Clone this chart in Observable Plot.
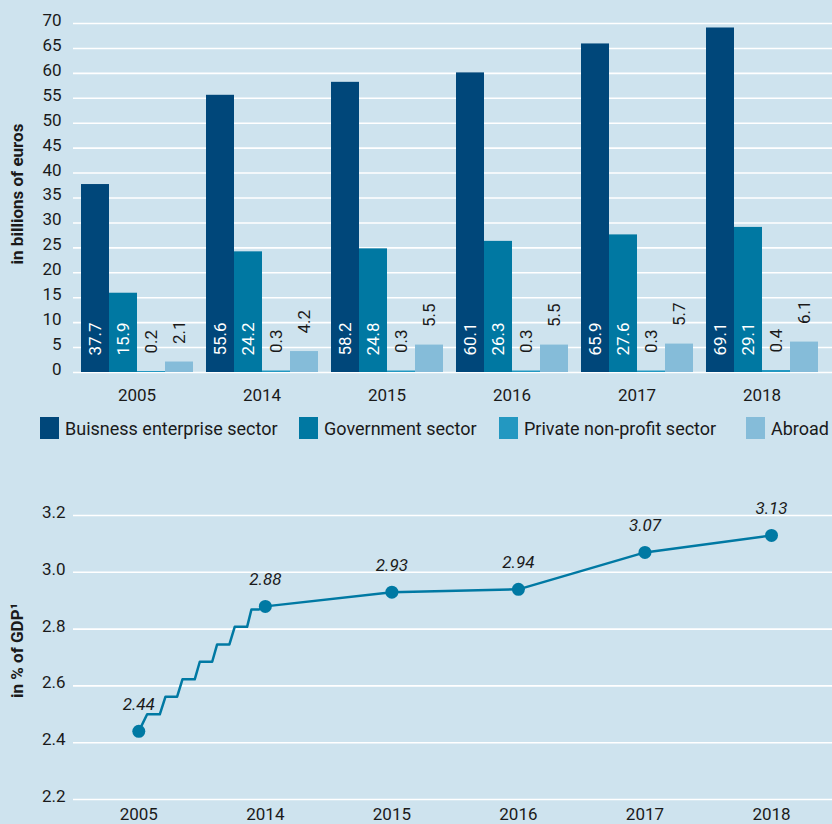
<!DOCTYPE html>
<html><head><meta charset="utf-8">
<script src="https://cdn.jsdelivr.net/npm/d3@7"></script>
<script src="https://cdn.jsdelivr.net/npm/@observablehq/plot@0.6"></script>
<style>
html,body{margin:0;padding:0;background:#cee3ee;}
#root{position:relative;width:832px;height:824px;overflow:hidden;font-family:Roboto,"Liberation Sans",sans-serif;}
.layer{position:absolute;left:0;}
#legend{position:absolute;left:0;top:417px;width:832px;height:22px;font-size:18px;color:#1a1a1a;white-space:nowrap;}
.item{position:absolute;top:0;height:22px;display:flex;align-items:center;}
.sw{width:19px;height:22px;margin-right:6px;}
</style></head><body><div id="root"></div>
<script>
// ---- data ----
const years = ["2005", "2014", "2015", "2016", "2017", "2018"];
const sectors = ["Buisness enterprise sector", "Government sector", "Private non-profit sector", "Abroad"];
const business = [37.7, 55.6, 58.2, 60.1, 65.9, 69.1];
const government = [15.9, 24.2, 24.8, 26.3, 27.6, 29.1];
const privateNonProfit = [0.2, 0.3, 0.3, 0.3, 0.3, 0.4];
const abroad = [2.1, 4.2, 5.5, 5.5, 5.7, 6.1];
const topTicks = [0, 5, 10, 15, 20, 25, 30, 35, 40, 45, 50, 55, 60, 65, 70];
const topTitle = "in billions of euros";

const gdpShare = [2.44, 2.88, 2.93, 2.94, 3.07, 3.13];
// axis-break staircase between 2005 and 2014 (x in year-slot units)
const breakX = [0.066, 0.166, 0.211, 0.303, 0.345, 0.442, 0.482, 0.580, 0.619, 0.716, 0.758, 0.856, 0.890, 0.95];
const breakY = [2.500, 2.500, 2.562, 2.562, 2.623, 2.623, 2.685, 2.685, 2.746, 2.746, 2.808, 2.808, 2.869, 2.869];
const gdpTicks = [2.2, 2.4, 2.6, 2.8, 3.0, 3.2];
const gdpTitle = "in % of GDP\u00B9";

// ---- styles ----
const sectorColors = ["#00477a", "#0078a2", "#2398c1", "#85bcd9"];
const lineColor = "#0079a3";
const legendLeft = [40, 299, 499, 746];
const FONT = 'Roboto, "Liberation Sans", sans-serif';
const baseStyle = {background: "transparent", fontFamily: FONT, fontSize: "17px", color: "#1a1a1a", overflow: "visible"};

const values = [business, government, privateNonProfit, abroad];
const rows = [];
years.forEach((y, i) => sectors.forEach((s, k) => rows.push({year: y, sector: s, value: values[k][i], inside: k < 2})));
const fmt1 = d3.format(".1f");
const fmt2 = d3.format(".2f");

const root = document.getElementById("root");
function place(el, top) { el.classList.add("layer"); el.style.top = top + "px"; root.appendChild(el); }

// top: background grid + y axis
const topBg = Plot.plot({
  width: 832, height: 410, marginLeft: 73, marginRight: 0, marginTop: 23, marginBottom: 38,
  style: baseStyle,
  y: {domain: [0, 70]},
  marks: [
    Plot.ruleY(topTicks, {stroke: "white", strokeWidth: 1.6}),
    Plot.axisY(topTicks, {tickSize: 0, tickPadding: 12, dy: -3, label: null}),
    Plot.text([topTitle], {frameAnchor: "left", textAnchor: "middle", rotate: -90, dx: -56, dy: -4, fontWeight: "bold", fontSize: 17, fill: "#1a1a1a"})
  ]
});
place(topBg, 0);

// top: grouped bars
const topBars = Plot.plot({
  width: 832, height: 410, marginLeft: 73, marginRight: 7, marginTop: 23, marginBottom: 38,
  style: baseStyle,
  fx: {domain: years, paddingInner: 0.1, paddingOuter: 0.05, label: null, axis: "bottom", tickSize: 0, tickPadding: 16},
  x: {domain: sectors, padding: 0, axis: null},
  y: {domain: [0, 70], axis: null},
  color: {domain: sectors, range: sectorColors},
  marks: [
    Plot.barY(rows, {fx: "year", x: "sector", y: "value", fill: "sector"}),
    Plot.text(rows.filter(d => d.inside), {fx: "year", x: "sector", y: 0, text: d => fmt1(d.value), rotate: -90, textAnchor: "start", dy: -17, fill: "white"}),
    Plot.text(rows.filter(d => !d.inside), {fx: "year", x: "sector", y: "value", text: d => fmt1(d.value), rotate: -90, textAnchor: "start", dy: -18, fill: "#1a1a1a"})
  ]
});
place(topBars, 0);

// legend
const legend = document.createElement("div");
legend.id = "legend";
sectors.forEach((s, k) => {
  const it = document.createElement("div"); it.className = "item"; it.style.left = legendLeft[k] + "px";
  const sw = document.createElement("div"); sw.className = "sw"; sw.style.background = sectorColors[k];
  const tx = document.createElement("span"); tx.textContent = s;
  it.appendChild(sw); it.appendChild(tx); legend.appendChild(it);
});
root.appendChild(legend);

// bottom: line chart
const main = years.map((y, i) => ({x: i, y: gdpShare[i]}));
const path = [main[0], ...breakX.map((x, j) => ({x, y: breakY[j]})), ...main.slice(1)];
const bottom = Plot.plot({
  width: 832, height: 374, marginLeft: 73, marginRight: 0, marginTop: 65, marginBottom: 25,
  style: baseStyle,
  x: {domain: [0, years.length - 1], range: [138.3, 771]},
  y: {domain: [2.2, 3.2]},
  marks: [
    Plot.ruleY(gdpTicks, {stroke: "white", strokeWidth: 1.6}),
    Plot.axisY(gdpTicks, {tickSize: 0, tickPadding: 8, dy: -3, tickFormat: d3.format(".1f"), label: null}),
    Plot.axisX(d3.range(years.length), {tickSize: 0, tickPadding: 8, tickFormat: i => years[i], label: null}),
    Plot.line(path, {x: "x", y: "y", stroke: lineColor, strokeWidth: 2.5}),
    Plot.dot(main, {x: "x", y: "y", r: 6.5, fill: lineColor}),
    Plot.text(main, {x: "x", y: "y", text: d => fmt2(d.y), dy: -27, fontStyle: "italic", fill: "#1a1a1a"}),
    Plot.text([gdpTitle], {frameAnchor: "left", textAnchor: "middle", rotate: -90, dx: -56, dy: -7, fontWeight: "bold", fontSize: 17, fill: "#1a1a1a"})
  ]
});
place(bottom, 450);
</script>
</body></html>
